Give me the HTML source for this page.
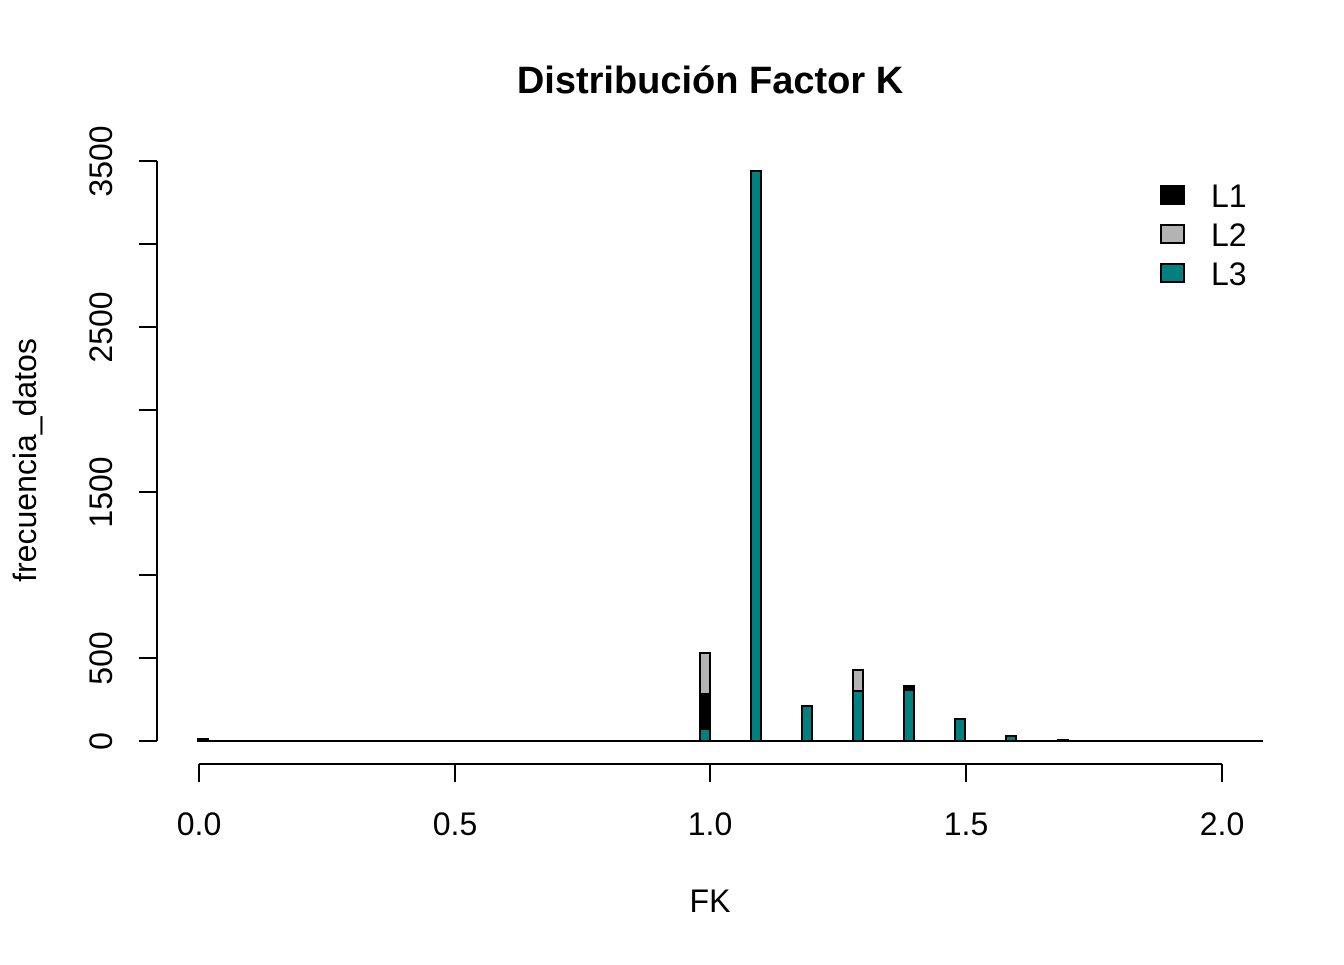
<!DOCTYPE html>
<html><head><style>body{margin:0;background:#fff}</style></head><body>
<svg width="1344" height="960" xmlns="http://www.w3.org/2000/svg" font-family="Liberation Sans, Arial, sans-serif">
<rect width="1344" height="960" fill="#fff"/>
<text x="710" y="93" font-size="38" font-weight="bold" text-anchor="middle">Distribución Factor K</text>
<text x="710" y="912" font-size="32" text-anchor="middle">FK</text>
<text transform="translate(36,460) rotate(-90)" font-size="32" text-anchor="middle">frecuencia_datos</text>
<g stroke="#000" stroke-width="2" fill="none">
<line x1="157" y1="161" x2="157" y2="741"/>
<line x1="139" y1="161" x2="157" y2="161"/>
<line x1="139" y1="244" x2="157" y2="244"/>
<line x1="139" y1="327" x2="157" y2="327"/>
<line x1="139" y1="410" x2="157" y2="410"/>
<line x1="139" y1="492" x2="157" y2="492"/>
<line x1="139" y1="575" x2="157" y2="575"/>
<line x1="139" y1="658" x2="157" y2="658"/>
<line x1="139" y1="741" x2="157" y2="741"/>
<line x1="199" y1="764" x2="1222" y2="764"/>
<line x1="199" y1="764" x2="199" y2="782"/>
<line x1="455" y1="764" x2="455" y2="782"/>
<line x1="710" y1="764" x2="710" y2="782"/>
<line x1="966" y1="764" x2="966" y2="782"/>
<line x1="1222" y1="764" x2="1222" y2="782"/>
<line x1="198" y1="741" x2="1263" y2="741"/>
</g>
<g font-size="32" text-anchor="middle">
<text transform="translate(112,741) rotate(-90)">0</text>
<text transform="translate(112,658) rotate(-90)">500</text>
<text transform="translate(112,492) rotate(-90)">1500</text>
<text transform="translate(112,327) rotate(-90)">2500</text>
<text transform="translate(112,161) rotate(-90)">3500</text>
<text x="199" y="835">0.0</text>
<text x="455" y="835">0.5</text>
<text x="710" y="835">1.0</text>
<text x="966" y="835">1.5</text>
<text x="1222" y="835">2.0</text>
</g>
<g stroke="#000" stroke-width="2">
<rect x="198" y="739" width="10" height="2" fill="#000"/>
<rect x="700" y="653" width="10" height="41" fill="#b3b3b3"/>
<rect x="700" y="694" width="10" height="35" fill="#000"/>
<rect x="700" y="729" width="10" height="12" fill="#008080"/>
<rect x="751" y="171" width="10" height="570" fill="#008080"/>
<rect x="802" y="706" width="10" height="35" fill="#008080"/>
<rect x="853" y="670" width="10" height="21" fill="#b3b3b3"/>
<rect x="853" y="691" width="10" height="50" fill="#008080"/>
<rect x="904" y="686" width="10" height="4" fill="#000"/>
<rect x="904" y="690" width="10" height="51" fill="#008080"/>
<rect x="955" y="719" width="10" height="22" fill="#008080"/>
<rect x="1006" y="736" width="10" height="5" fill="#008080"/>
<rect x="1058" y="740" width="10" height="1" fill="#000"/>
<rect x="1161" y="186" width="23" height="18" fill="#000"/>
<rect x="1161" y="225" width="23" height="18" fill="#b3b3b3"/>
<rect x="1161" y="264" width="23" height="18" fill="#008080"/>
</g>
<g font-size="32">
<text x="1211" y="207">L1</text>
<text x="1211" y="246">L2</text>
<text x="1211" y="285">L3</text>
</g>
</svg>
</body></html>
